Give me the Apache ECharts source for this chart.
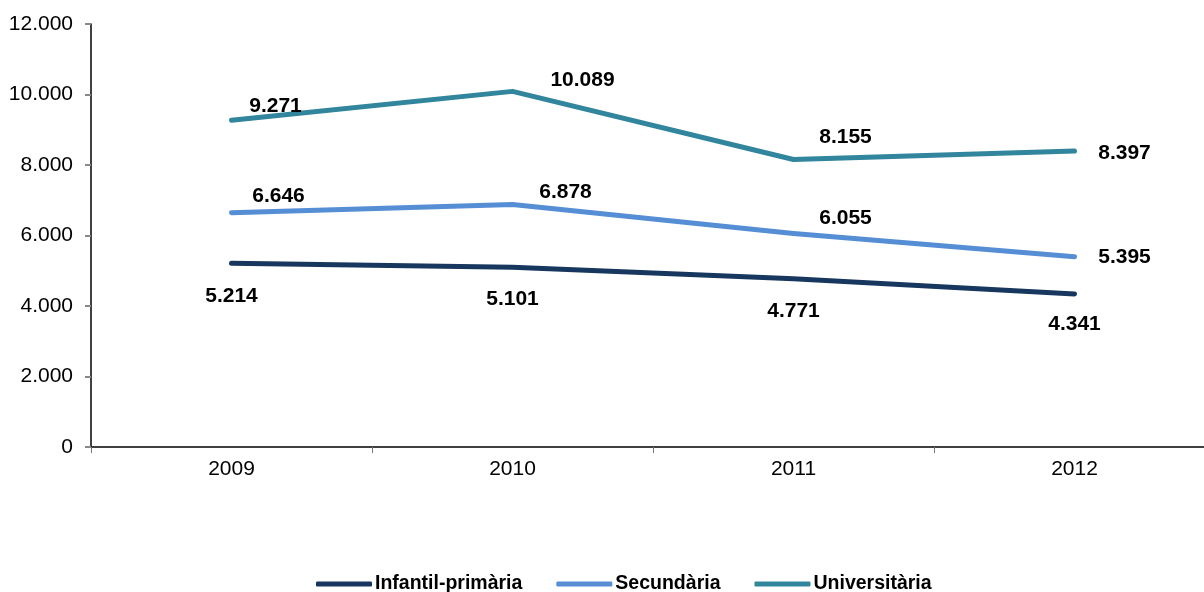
<!DOCTYPE html>
<html>
<head>
<meta charset="utf-8">
<script src="https://cdn.jsdelivr.net/npm/echarts@6/dist/echarts.min.js"></script>
<style>
html,body{margin:0;padding:0;background:#fff;overflow:hidden;width:1204px;height:592px;}
#chart{width:1216px;height:592px;}
</style>
</head>
<body>
<div id="chart"></div>
<script>
// Years on the horizontal axis
var years = ['2009', '2010', '2011', '2012'];

// Values per education level
var infantilPrimaria = [5214, 5101, 4771, 4341];
var secundaria = [6646, 6878, 6055, 5395];
var universitaria = [9271, 10089, 8155, 8397];

// Label placement around each point (dx, dy in pixels)
var offInfantil = [[0, 33], [0, 32], [0, 32], [0, 30]];
var offSecundaria = [[47, -17], [53, -12], [52, -15], [50, 0]];
var offUniversitaria = [[44, -14], [70, -11], [52, -22], [50, 2]];

function fmt(v) {
  return String(v).replace(/\B(?=(\d{3})+(?!\d))/g, '.');
}

function buildData(values, offsets) {
  return values.map(function (v, i) {
    return { value: v, label: { offset: offsets[i] } };
  });
}

function lineSeries(name, color, values, offsets) {
  return {
    name: name,
    type: 'line',
    data: buildData(values, offsets),
    symbol: 'circle',
    symbolSize: 1,
    showSymbol: true,
    itemStyle: { color: color },
    lineStyle: { color: color, width: 5, cap: 'round', join: 'round' },
    label: {
      show: true,
      position: 'inside',
      formatter: function (p) { return fmt(p.value); },
      color: '#000',
      fontFamily: 'Liberation Sans, Arial, sans-serif',
      fontWeight: 'bold',
      fontSize: 21
    },
    emphasis: { disabled: true },
    animation: false
  };
}

var chart = echarts.init(document.getElementById('chart'), null, { renderer: 'canvas' });
chart.setOption({
  backgroundColor: '#fff',
  animation: false,
  // the plot runs slightly past the visible right edge
  grid: { left: 91, top: 24, height: 423, width: 1124, containLabel: false },
  legend: {
    top: 574,
    left: 316,
    itemWidth: 56,
    itemHeight: 5,
    itemGap: 34,
    icon: 'roundRect',
    padding: 0,
    textStyle: {
      color: '#000',
      fontFamily: 'Liberation Sans, Arial, sans-serif',
      fontWeight: 'bold',
      fontSize: 19.5,
      padding: [0, 0, 0, -2]
    },
    data: ['Infantil-primària', 'Secundària', 'Universitària']
  },
  xAxis: {
    type: 'category',
    data: years,
    boundaryGap: true,
    axisLine: { lineStyle: { color: '#000', width: 1.5 } },
    axisTick: { show: true, alignWithLabel: false, length: 6, lineStyle: { color: '#777' } },
    axisLabel: {
      color: '#000',
      fontFamily: 'Liberation Sans, Arial, sans-serif',
      fontSize: 21,
      margin: 12
    },
    splitLine: { show: false }
  },
  yAxis: {
    type: 'value',
    min: 0,
    max: 12000,
    interval: 2000,
    axisLine: { show: true, lineStyle: { color: '#000', width: 1.5 } },
    axisTick: { show: true, length: 6, lineStyle: { color: '#888', width: 2 } },
    axisLabel: {
      color: '#000',
      fontFamily: 'Liberation Sans, Arial, sans-serif',
      fontSize: 21,
      margin: 18,
      formatter: function (v) { return fmt(v); }
    },
    splitLine: { show: false }
  },
  series: [
    lineSeries('Infantil-primària', '#17375E', infantilPrimaria, offInfantil),
    lineSeries('Secundària', '#558ED5', secundaria, offSecundaria),
    lineSeries('Universitària', '#31859C', universitaria, offUniversitaria)
  ]
});
</script>
</body>
</html>
